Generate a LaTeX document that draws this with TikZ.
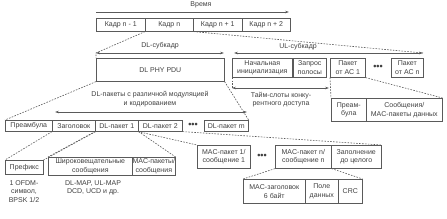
\documentclass[tikz,border=0pt]{standalone}
\usepackage{fontspec}
\setmainfont{Liberation Sans}
\usetikzlibrary{arrows.meta}
\definecolor{ln}{HTML}{5A5A5A}
\definecolor{txt}{HTML}{404040}
\newcommand\mybox[6]{\node[box,minimum width={(#4-#2)*1pt},minimum height={(#5-#3)*1pt}] (#1) at (#2,#3) {#6};}
\begin{document}
\begin{tikzpicture}[x=1pt,y=-1pt,
  font=\fontsize{7}{8.7}\selectfont, text=txt,
  box/.style={draw=ln, line width=0.6pt, inner sep=0pt, align=center, anchor=north west},
  dsh/.style={draw=ln, line width=0.6pt, dash pattern=on 1.6pt off 1.3pt},
  dim/.style={draw=ln, line width=0.6pt, {Stealth[length=4pt,width=2.6pt]}-{Stealth[length=4pt,width=2.6pt]}},
  lbl/.style={inner sep=0pt, align=center},
  dots/.style={inner sep=0pt, font=\fontsize{9}{9}\bfseries, text=txt}]
\useasboundingbox (0,0) rectangle (447,218);
% time
\node[lbl] (time) at (201,5) {Время};
\coordinate (t0) at (96,12);
\coordinate (t1) at (289,12);
\draw[draw=ln, line width=0.6pt, -{Stealth[length=4pt,width=2.6pt]}] (t0) -- (t1);
\mybox{f1}{96}{18}{145}{31}{Кадр n - 1}
\mybox{f2}{145}{18}{193}{31}{Кадр n}
\mybox{f3}{193}{18}{242}{31}{Кадр n + 1}
\mybox{f4}{242}{18}{290}{31}{Кадр n + 2}
% subframes
\node[lbl] (dll) at (160,45.5) {DL-субкадр};
\node[lbl] (ull) at (298,46.5) {UL-субкадр};
\coordinate (dl0) at (96,53);
\coordinate (dl1) at (224,53);
\coordinate (ul0) at (234,53);
\coordinate (ul1) at (423,53);
\draw[dim] (dl0) -- (dl1);
\draw[dim] (ul0) -- (ul1);
\mybox{pdu}{96}{58}{224}{81}{DL PHY PDU}
\mybox{init}{232}{58}{292}{77}{Начальная\\инициализация}
\mybox{req}{293}{58}{326}{77}{Запрос\\полосы}
\mybox{ac1}{330}{58}{365}{77}{Пакет\\от АС 1}
\node[dots] (d1) at (378,67.5) {•••};
\mybox{acn}{391}{58}{423}{77}{Пакет\\от АС n}
\draw[dsh] (f2.south west) -- (dl0) -- (pdu.north west);
\draw[dsh] (f2.south east) -- (ul1);
% time slots
\coordinate (ts0) at (232,88);
\coordinate (ts1) at (329,88);
\draw[dim] (ts0) -- (ts1);
\draw[dsh] (init.south west) -- (ts0);
\node[lbl] (tsl) at (281,99.5) {Тайм-слоты конку-\\рентного доступа};
\mybox{rp}{331}{98}{366}{121}{Преам-\\була}
\mybox{rm}{366}{98}{442}{121}{Сообщения/\\MAC-пакеты данных}
\draw[dsh] (ac1.south west) -- (rp.north west);
\draw[dsh] (ac1.south east) -- (rm.north east);
% DL bursts
\node[lbl] (dlp) at (150,99) {DL-пакеты с различной модуляцией\\и кодированием};
\coordinate (da0) at (55,112);
\coordinate (da1) at (247,112);
\draw[dim] (da0) -- (da1);
\mybox{pre}{5}{120}{52}{131}{Преамбула}
\mybox{hdr}{52}{120}{95}{131}{Заголовок}
\mybox{dl1}{95}{120}{138}{131}{DL-пакет 1}
\mybox{dl2}{138}{120}{182}{131}{DL-пакет 2}
\node[dots] (d2) at (193,125.5) {•••};
\mybox{dlm}{204}{120}{248}{131}{DL-пакет m}
\draw[dsh] (pdu.south west) -- (pre.north west);
\draw[dsh] (pdu.south east) -- (dlm.north east);
% burst 1 detail
\mybox{pref}{5}{160}{43}{174}{Префикс}
\mybox{bc}{48}{157}{132}{175}{Широковещательные\\сообщения}
\mybox{mac}{132}{157}{175}{175}{MAC-пакеты/\\сообщения}
\node[lbl, anchor=north] (ofdm) at (24,180) {1 OFDM-\\символ,\\BPSK 1/2};
\node[lbl, anchor=north] (maps) at (93,180) {DL-MAP, UL-MAP\\DCD, UCD и др.};
\draw[dsh] (hdr.south west) -- (pref.north west);
\draw[dsh] (hdr.south east) -- (pref.north east);
\draw[dsh] (dl1.south west) -- (bc.north west);
\draw[dsh] (dl1.south east) -- (mac.north east);
% burst 2 detail
\mybox{mac1}{197}{145}{250}{168}{MAC-пакет 1/\\сообщение 1}
\node[dots] (d3) at (262,156.5) {•••};
\mybox{macn}{275}{145}{331}{168}{MAC-пакет n/\\сообщение n}
\mybox{fill}{331}{145}{381}{168}{Заполнение\\до целого}
\draw[dsh] (dl2.south west) -- (mac1.north west);
\draw[dsh] (dl2.south east) -- (fill.north east);
\mybox{mh}{243}{179}{305}{203}{MAC-заголовок\\6 байт}
\mybox{pd}{305}{179}{338}{203}{Поле\\данных}
\mybox{crc}{338}{179}{362}{203}{CRC}
\draw[dsh] (macn.south west) -- (mh.north west);
\draw[dsh] (macn.south east) -- (crc.north east);
\end{tikzpicture}
\end{document}
